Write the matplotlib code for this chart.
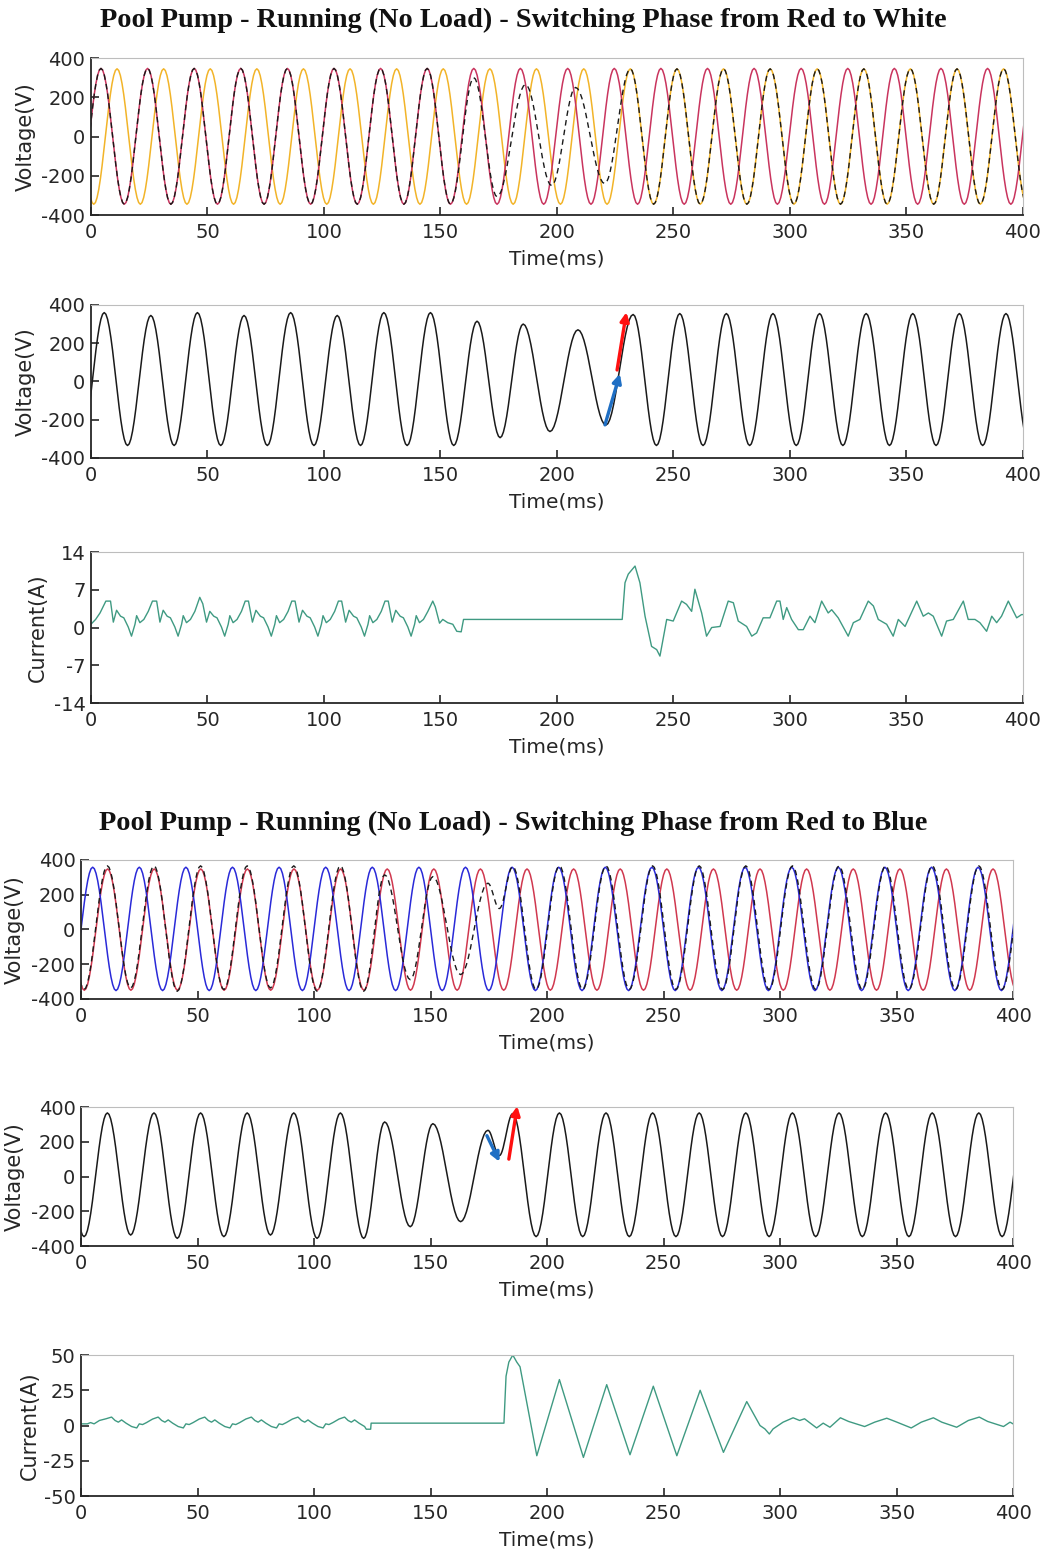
import numpy as np
import matplotlib
matplotlib.use("agg")
import matplotlib.pyplot as plt

plt.rcParams["font.family"] = ["DejaVu Sans"]
plt.rcParams["axes.unicode_minus"] = False

# ---- Red -> White recording (extrema times in ms, volts) ----
red1_t = [-5.7, 4.3, 14.3, 24.3, 34.3, 44.3, 54.3, 64.3, 74.3, 84.3,
          94.3, 104.3, 114.3, 124.3, 134.3, 144.3, 154.3, 164.3, 174.3, 184.3,
          194.3, 204.6, 214.6, 224.6, 234.6, 244.6, 254.6, 264.6, 274.6, 284.6,
          294.6, 304.8, 314.8, 324.8, 334.8, 344.8, 354.8, 364.8, 374.8, 384.8,
          394.8, 404.8]
red1_v = [-345, 347, -345, 347, -345, 347, -345, 347, -345, 347,
          -345, 347, -345, 347, -345, 347, -345, 347, -345, 347,
          -345, 347, -345, 347, -345, 347, -345, 347, -345, 347,
          -345, 347, -345, 347, -345, 347, -345, 347, -345, 347,
          -345, 347]

yel1_t = [-8.8, 1.2, 11.2, 21.2, 31.2, 41.2, 51.2, 61.2, 71.2, 81.2,
          91.2, 101.2, 111.2, 121.2, 131.2, 141.2, 151.2, 161.2, 171.2, 181.2,
          191.2, 201.5, 211.5, 221.5, 231.5, 241.5, 251.5, 261.5, 271.5, 281.5,
          291.5, 301.7, 311.7, 321.7, 331.7, 341.7, 351.7, 361.7, 371.7, 381.7,
          391.7, 401.7, 411.7]
yel1_v = [345, -345, 345, -345, 345, -345, 345, -345, 345, -345,
          345, -345, 345, -345, 345, -345, 345, -345, 345, -345,
          345, -345, 345, -345, 345, -345, 345, -345, 345, -345,
          345, -345, 345, -345, 345, -345, 345, -345, 345, -345,
          345, -345, 345]

# motor voltage while it is being moved from red to white (dashed trace)
sw1_t = [164.3, 174.3, 186.5, 197.7, 208.0, 220.5]
sw1_v = [300, -307, 265, -250, 250, -240]

# motor terminal voltage, Red -> White
mot1_t = [-4.3, 5.7, 15.7, 25.7, 35.7, 45.7, 55.7, 65.7, 75.7, 85.7,
          95.7, 105.7, 115.7, 125.7, 135.7, 145.7, 155.7, 165.7, 175.6, 185.5,
          197.0, 209.0, 221.0, 232.7, 242.7, 252.7, 262.7, 272.7, 282.7, 292.7,
          302.7, 312.7, 322.7, 332.7, 342.7, 352.7, 362.7, 372.7, 382.7, 392.7,
          402.7]
mot1_v = [-335, 360, -335, 345, -335, 360, -335, 345, -335, 360,
          -335, 345, -335, 360, -335, 360, -335, 315, -294, 300,
          -262, 270, -228, 350, -335, 355, -335, 355, -335, 355,
          -335, 355, -335, 355, -335, 355, -335, 355, -335, 355,
          -335]

# motor current, Red -> White (ms, A)
cur1 = [(0.2, 0.7), (2.0, 1.5), (3.9, 2.7), (6.4, 4.9), (8.4, 4.9), (9.6, 1.0),
        (11.0, 3.2), (12.7, 2.1), (14.1, 1.8), (16.0, 0.1), (17.4, -1.6), (18.9, 0.6),
        (19.6, 2.2), (21.0, 0.9), (22.7, 1.5), (24.6, 3.0), (26.4, 4.9), (28.2, 4.9),
        (29.6, 1.0), (31.0, 3.2), (32.7, 2.1), (34.1, 1.8), (36.0, 0.1), (37.4, -1.6),
        (38.9, 0.6), (39.6, 2.2), (41.0, 0.9), (42.7, 1.5), (44.6, 3.0), (46.7, 5.6),
        (48.0, 4.4), (49.6, 1.0), (51.0, 3.0), (52.7, 2.1), (54.1, 1.8), (56.0, 0.1),
        (57.4, -1.6), (58.9, 0.6), (59.6, 2.2), (61.0, 0.9), (62.7, 1.5), (64.6, 3.0),
        (66.2, 4.9), (67.6, 4.9), (69.3, 1.0), (70.8, 3.2), (72.7, 2.1), (74.1, 1.8),
        (76.0, 0.1), (77.4, -1.6), (78.9, 0.6), (79.6, 2.2), (81.0, 0.9), (82.7, 1.5),
        (84.6, 3.0), (86.2, 4.9), (87.6, 4.9), (89.3, 1.0), (90.8, 3.2), (92.7, 2.1),
        (94.1, 1.8), (96.0, 0.1), (97.4, -1.6), (98.9, 0.6), (99.6, 2.2), (101.0, 0.9),
        (102.7, 1.5), (104.6, 3.0), (106.2, 4.9), (107.6, 4.9), (109.3, 1.0), (110.8, 3.2),
        (112.7, 2.1), (114.1, 1.8), (116.0, 0.1), (117.4, -1.6), (118.9, 0.6), (119.6, 2.2),
        (121.0, 0.9), (122.7, 1.5), (124.6, 3.0), (126.2, 4.9), (127.6, 4.9), (129.3, 1.0),
        (130.8, 3.2), (132.7, 2.1), (134.1, 1.8), (136.0, 0.1), (137.4, -1.6), (138.9, 0.6),
        (139.6, 2.2), (141.0, 0.9), (142.7, 1.5), (144.6, 3.0), (146.7, 4.9), (147.8, 3.8),
        (149.6, 0.8), (151.0, 1.5), (153.1, 0.9), (155.3, 0.6), (157.0, -0.7), (158.9, -0.8),
        (159.9, 1.5), (228.0, 1.5), (229.2, 8.3), (230.6, 9.9), (233.5, 11.4), (235.6, 8.3),
        (237.8, 2.1), (240.6, -3.5), (242.8, -4.1), (244.2, -5.3), (247.1, 1.5), (249.9, 1.2),
        (253.5, 4.9), (255.6, 4.3), (257.8, 3.0), (259.2, 7.1), (262.1, 2.7), (264.2, -1.6),
        (266.4, 0.0), (270.0, 0.2), (273.5, 4.9), (275.7, 4.6), (277.8, 1.2), (281.4, 0.2),
        (283.6, -1.6), (285.7, -1.0), (288.5, 1.8), (291.4, 1.8), (294.3, 4.9), (295.7, 4.9),
        (297.1, 1.5), (298.6, 3.7), (300.7, 1.5), (303.6, -0.4), (305.7, -0.4), (308.6, 2.1),
        (310.7, 0.9), (313.6, 4.9), (316.4, 2.7), (317.9, 3.3), (320.7, 1.8), (325.0, -1.6),
        (327.2, 0.9), (330.0, 1.5), (333.6, 4.9), (335.8, 4.0), (337.9, 1.5), (341.5, 0.6),
        (344.3, -1.6), (346.5, 1.5), (349.4, 0.2), (354.4, 4.9), (357.2, 2.1), (359.4, 2.7),
        (361.5, 2.1), (365.1, -1.6), (367.2, 1.2), (370.1, 1.5), (374.4, 4.9), (376.5, 1.5),
        (379.4, 1.5), (381.5, 0.9), (384.4, -0.7), (386.6, 2.1), (388.7, 0.9), (390.8, 2.1),
        (393.7, 4.9), (395.9, 3.0), (397.3, 1.8), (399.4, 2.4), (400.0, 2.4)]

# ---- Red -> Blue recording ----
red4_t = [-8.6, 1.4, 11.4, 21.4, 31.4, 41.4, 51.4, 61.4, 71.4, 81.4,
          91.4, 101.4, 111.4, 121.4, 131.4, 141.4, 151.4, 161.4, 171.4, 181.4,
          191.4, 201.4, 211.4, 221.4, 231.4, 241.4, 251.4, 261.4, 271.4, 281.4,
          291.4, 301.4, 311.4, 321.4, 331.4, 341.4, 351.4, 361.4, 371.4, 381.4,
          391.4, 401.4, 411.4]
red4_v = [348, -350, 348, -350, 348, -350, 348, -350, 348, -350,
          348, -350, 348, -350, 348, -350, 348, -350, 348, -350,
          348, -350, 348, -350, 348, -350, 348, -350, 348, -350,
          348, -350, 348, -350, 348, -350, 348, -350, 348, -350,
          348, -350, 348]

blue4_t = [-5.0, 5.0, 15.0, 25.0, 35.0, 45.0, 55.0, 65.0, 75.0, 85.0,
           95.0, 105.0, 115.0, 125.0, 135.0, 145.0, 155.0, 165.0, 175.0, 185.0,
           195.0, 205.0, 215.0, 225.0, 235.0, 245.0, 255.0, 265.0, 275.0, 285.0,
           295.0, 305.0, 315.0, 325.0, 335.0, 345.0, 355.0, 365.0, 375.0, 385.0,
           395.0, 405.0]
blue4_v = [-352, 358, -352, 358, -352, 358, -352, 358, -352, 358,
           -352, 358, -352, 358, -352, 358, -352, 358, -352, 358,
           -352, 358, -352, 358, -352, 358, -352, 358, -352, 358,
           -352, 358, -352, 358, -352, 358, -352, 358, -352, 358,
           -352, 358]

# motor terminal voltage, Red -> Blue (also the dashed trace above it)
mot2_t = [-8.7, 1.3, 11.3, 21.3, 31.3, 41.3, 51.3, 61.3, 71.3, 81.3,
          91.3, 101.3, 111.3, 121.3, 130.3, 141.3, 151.0, 162.9, 174.6, 179.5,
          185.3, 195.3, 205.3, 215.3, 225.3, 235.3, 245.3, 255.3, 265.3, 275.3,
          285.3, 295.3, 305.3, 315.3, 325.3, 335.3, 345.3, 355.3, 365.3, 375.3,
          385.3, 395.3, 405.3]
mot2_v = [360, -346, 366, -337, 366, -356, 366, -346, 366, -337,
          366, -356, 366, -356, 314, -289, 304, -260, 266, 120,
          362, -346, 366, -346, 366, -346, 366, -346, 366, -346,
          366, -346, 366, -346, 366, -346, 366, -346, 366, -346,
          366, -346, 366]

# motor current, Red -> Blue (ms, A)
cur2 = [(0.3, 1.2), (2.7, 1.2), (4.1, 2.1), (5.6, 1.2), (7.9, 3.6), (10.7, 4.8),
        (13.1, 6.0), (14.6, 3.6), (16.0, 2.4), (17.4, 4.0), (19.3, 1.7), (21.7, -0.7),
        (23.9, -1.7), (25.0, 1.2), (26.4, 0.7), (28.1, 2.1), (30.7, 4.6), (33.1, 6.0),
        (34.6, 3.6), (36.0, 2.4), (37.4, 4.0), (39.3, 1.7), (41.7, -0.7), (43.9, -1.7),
        (45.0, 1.2), (46.4, 0.7), (48.1, 2.1), (50.7, 4.6), (53.1, 6.0), (54.6, 3.6),
        (56.0, 2.4), (57.4, 4.0), (59.3, 1.7), (61.7, -0.7), (63.9, -1.7), (65.0, 1.2),
        (66.4, 0.7), (68.1, 2.1), (70.7, 4.6), (73.1, 6.0), (74.6, 3.6), (76.0, 2.4),
        (77.4, 4.0), (79.3, 1.7), (81.7, -0.7), (83.9, -1.7), (85.0, 1.2), (86.4, 0.7),
        (88.1, 2.1), (90.7, 4.6), (93.1, 6.0), (94.6, 3.6), (96.0, 2.4), (97.4, 4.0),
        (99.3, 1.7), (101.7, -0.7), (103.9, -1.7), (105.0, 1.2), (106.4, 0.7), (108.1, 2.1),
        (110.7, 4.6), (113.1, 6.0), (114.6, 3.6), (116.0, 2.4), (117.4, 4.0), (119.3, 1.7),
        (121.7, -0.7), (122.4, -2.6), (124.3, -2.6), (124.5, 1.7), (181.5, 1.7), (182.4, 35.0),
        (183.6, 45.0), (185.3, 50.0), (187.0, 45.0), (188.4, 41.7), (195.6, -21.4), (205.3, 32.6),
        (215.6, -22.6), (225.6, 29.0), (235.6, -20.7), (245.6, 27.9), (255.7, -21.4), (265.7, 25.0),
        (275.7, -19.0), (285.7, 17.0), (291.4, 0.0), (293.5, -2.4), (295.4, -6.0), (297.0, -2.4),
        (301.3, 2.4), (305.6, 5.5), (308.4, 3.6), (310.5, 4.8), (315.7, -1.7), (318.5, 1.7),
        (321.4, -1.2), (325.9, 5.5), (329.4, 2.9), (336.3, -0.7), (340.6, 2.4), (345.8, 5.2),
        (349.4, 2.9), (356.3, -1.7), (360.6, 2.4), (365.8, 5.5), (369.4, 2.4), (375.8, -1.2),
        (380.8, 3.6), (385.5, 6.0), (389.1, 2.9), (395.9, -0.7), (398.7, 2.4), (400.0, 1.2)]

# arrow annotations (tail, head) in data units
arr1_blue = [(220.6, -227), (227.0, 40)]
arr1_red = [(225.8, 60), (229.8, 362)]
arr2_blue = [(174.2, 235), (179.6, 85)]
arr2_red = [(183.6, 100), (187.2, 405)]

TXT = "#262626"


def smooth(tx, vx, n=14):
    # draw a half-cosine between consecutive extrema
    xs, ys = [], []
    s = np.linspace(0, 1, n, endpoint=False)
    w = (1 - np.cos(np.pi * s)) / 2
    for i in range(len(tx) - 1):
        xs.extend(tx[i] + (tx[i + 1] - tx[i]) * s)
        ys.extend(vx[i] + (vx[i + 1] - vx[i]) * w)
    xs.append(tx[-1])
    ys.append(vx[-1])
    return xs, ys


def style(ax, ylim, yticks, ylabel, labx):
    ax.set_xlim(0, 400)
    ax.set_ylim(*ylim)
    ax.set_xticks(range(0, 401, 50))
    ax.set_yticks(yticks)
    ax.tick_params(direction="in", length=6, width=1.2, colors=TXT,
                   labelsize=14, pad=6)
    ax.tick_params(axis="y", pad=4)
    for side in ["top", "right"]:
        ax.spines[side].set_color("#bdbdbd")
        ax.spines[side].set_linewidth(0.8)
    for side in ["bottom", "left"]:
        ax.spines[side].set_color(TXT)
        ax.spines[side].set_linewidth(1.3)
    ax.set_xlabel("Time(ms)", fontsize=14.5, color=TXT, labelpad=5)
    ax.set_ylabel(ylabel, fontsize=15, color=TXT)
    ax.yaxis.set_label_coords(labx, 0.5)


def arrow(ax, pts, color):
    ax.annotate("", xy=pts[1], xytext=pts[0],
                arrowprops=dict(arrowstyle="-|>", color=color, lw=2.4,
                                mutation_scale=13, shrinkA=0, shrinkB=0),
                annotation_clip=False)


fig = plt.figure(figsize=(10.43, 15.55), dpi=100)

W = 0.8936
ax1 = fig.add_axes([0.0872, 0.8617, W, 0.1010])
ax2 = fig.add_axes([0.0872, 0.7055, W, 0.0984])
ax3 = fig.add_axes([0.0872, 0.5479, W, 0.0971])
ax4 = fig.add_axes([0.0777, 0.3576, W, 0.0894])
ax5 = fig.add_axes([0.0777, 0.1987, W, 0.0894])
ax6 = fig.add_axes([0.0777, 0.0379, W, 0.0907])

fig.text(0.502, 0.987, "Pool Pump - Running (No Load) - Switching Phase from Red to White",
         ha="center", va="center", fontsize=20.3, fontweight="bold",
         family="Liberation Serif", color="#111111")
fig.text(0.492, 0.4707, "Pool Pump - Running (No Load) - Switching Phase from Red to Blue",
         ha="center", va="center", fontsize=20.3, fontweight="bold",
         family="Liberation Serif", color="#111111")

# panel 1
x, y = smooth(yel1_t, yel1_v)
ax1.plot(x, y, color="#F2B429", lw=1.1)
x, y = smooth(red1_t, red1_v)
ax1.plot(x, y, color="#C9345E", lw=1.1)
dash_t = red1_t[:17] + sw1_t + yel1_t[24:]
dash_v = red1_v[:17] + sw1_v + yel1_v[24:]
x, y = smooth(dash_t, dash_v)
ax1.plot(x, y, color="#1a1a1a", lw=1.0, ls=(0, (4, 3)))
style(ax1, (-400, 400), [-400, -200, 0, 200, 400], "Voltage(V)", -0.059)

# panel 2
x, y = smooth(mot1_t, mot1_v)
ax2.plot(x, y, color="#1a1a1a", lw=1.1)
arrow(ax2, arr1_blue, "#1f6fc4")
arrow(ax2, arr1_red, "#ff1010")
style(ax2, (-400, 400), [-400, -200, 0, 200, 400], "Voltage(V)", -0.059)

# panel 3
ct, ci = zip(*cur1)
ax3.plot(ct, ci, color="#3f9a82", lw=1.0)
style(ax3, (-14, 14), [-14, -7, 0, 7, 14], "Current(A)", -0.046)

# panel 4
x, y = smooth(red4_t, red4_v)
ax4.plot(x, y, color="#D0384F", lw=1.1)
x, y = smooth(blue4_t, blue4_v)
ax4.plot(x, y, color="#2a2ad8", lw=1.1)
x, y = smooth(mot2_t, mot2_v)
ax4.plot(x, y, color="#1a1a1a", lw=1.0, ls=(0, (4, 3)))
style(ax4, (-400, 400), [-400, -200, 0, 200, 400], "Voltage(V)", -0.060)

# panel 5
x, y = smooth(mot2_t, mot2_v)
ax5.plot(x, y, color="#1a1a1a", lw=1.1)
arrow(ax5, arr2_blue, "#1f6fc4")
arrow(ax5, arr2_red, "#ff1010")
style(ax5, (-400, 400), [-400, -200, 0, 200, 400], "Voltage(V)", -0.060)

# panel 6
ct, ci = zip(*cur2)
ax6.plot(ct, ci, color="#3f9a82", lw=1.0)
style(ax6, (-50, 50), [-50, -25, 0, 25, 50], "Current(A)", -0.044)

fig.savefig("out.png", dpi=100)
